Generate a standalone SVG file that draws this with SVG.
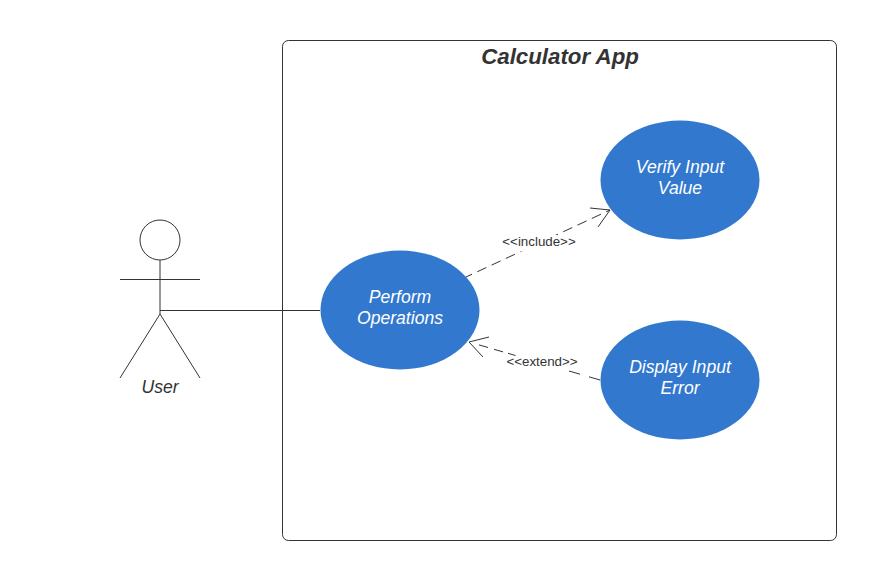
<svg xmlns="http://www.w3.org/2000/svg" width="876" height="580" viewBox="0 0 876 580">
<style>
.ln{fill:none;stroke:#333;stroke-width:1}
.dash{fill:none;stroke:#333;stroke-width:1;stroke-dasharray:10 5.800;stroke-dashoffset:3.400}
.uc{fill:#3178ce;stroke:none}
.t{font-family:"Liberation Sans",Arial,sans-serif;font-style:italic;font-size:17.600px;fill:#fff;text-anchor:middle}
.l{font-family:"Liberation Sans",Arial,sans-serif;font-size:13.330px;fill:#333;text-anchor:middle}
</style>
<rect width="876" height="580" fill="#fff"/>
<g id="system">
<rect x="282.500" y="40.500" width="554" height="500" rx="6" fill="#fff" stroke="#333"/>
<text x="560" y="63.500" text-anchor="middle" font-family="Liberation Sans,Arial,sans-serif" font-style="italic" font-weight="bold" font-size="22.300px" fill="#333">Calculator App</text>
</g>
<g id="connectors">
<path class="ln" d="M160 310.500H320"/>
<path class="dash" d="M466 277L610 210"/>
<path class="ln" d="M590 208L610 210L598 227"/>
<path class="ln" d="M479 344.900L488 347.500M494 349.300L503 351.900M508 353.300L515.500 355.500M569 371L580 374.200M589 376.800L600 380"/>
<path class="ln" d="M489 337L469 342L483 357"/>
<rect x="501" y="235" width="76" height="16.500" fill="#fff"/>
<text class="l" x="539" y="246">&lt;&lt;include&gt;&gt;</text>
<text class="l" x="542" y="366">&lt;&lt;extend&gt;&gt;</text>
</g>
<g id="user">
<circle cx="160" cy="240" r="20" fill="#fff" stroke="#333"/>
<path class="ln" d="M160 260V314M120 279.500H200M120 378L160 314L200 378"/>
<text x="160" y="393" text-anchor="middle" font-family="Liberation Sans,Arial,sans-serif" font-style="italic" font-size="17.600px" fill="#333">User</text>
</g>
<g id="perform"><ellipse class="uc" cx="400" cy="310" rx="79.500" ry="59.500"/><text class="t" x="400" y="303">Perform</text><text class="t" x="400" y="324">Operations</text></g>
<g id="verify"><ellipse class="uc" cx="680" cy="180" rx="79.500" ry="59.500"/><text class="t" x="680" y="173">Verify Input</text><text class="t" x="680" y="194">Value</text></g>
<g id="display"><ellipse class="uc" cx="680" cy="380" rx="79.500" ry="59.500"/><text class="t" x="680" y="373">Display Input</text><text class="t" x="680" y="394">Error</text></g>
</svg>
